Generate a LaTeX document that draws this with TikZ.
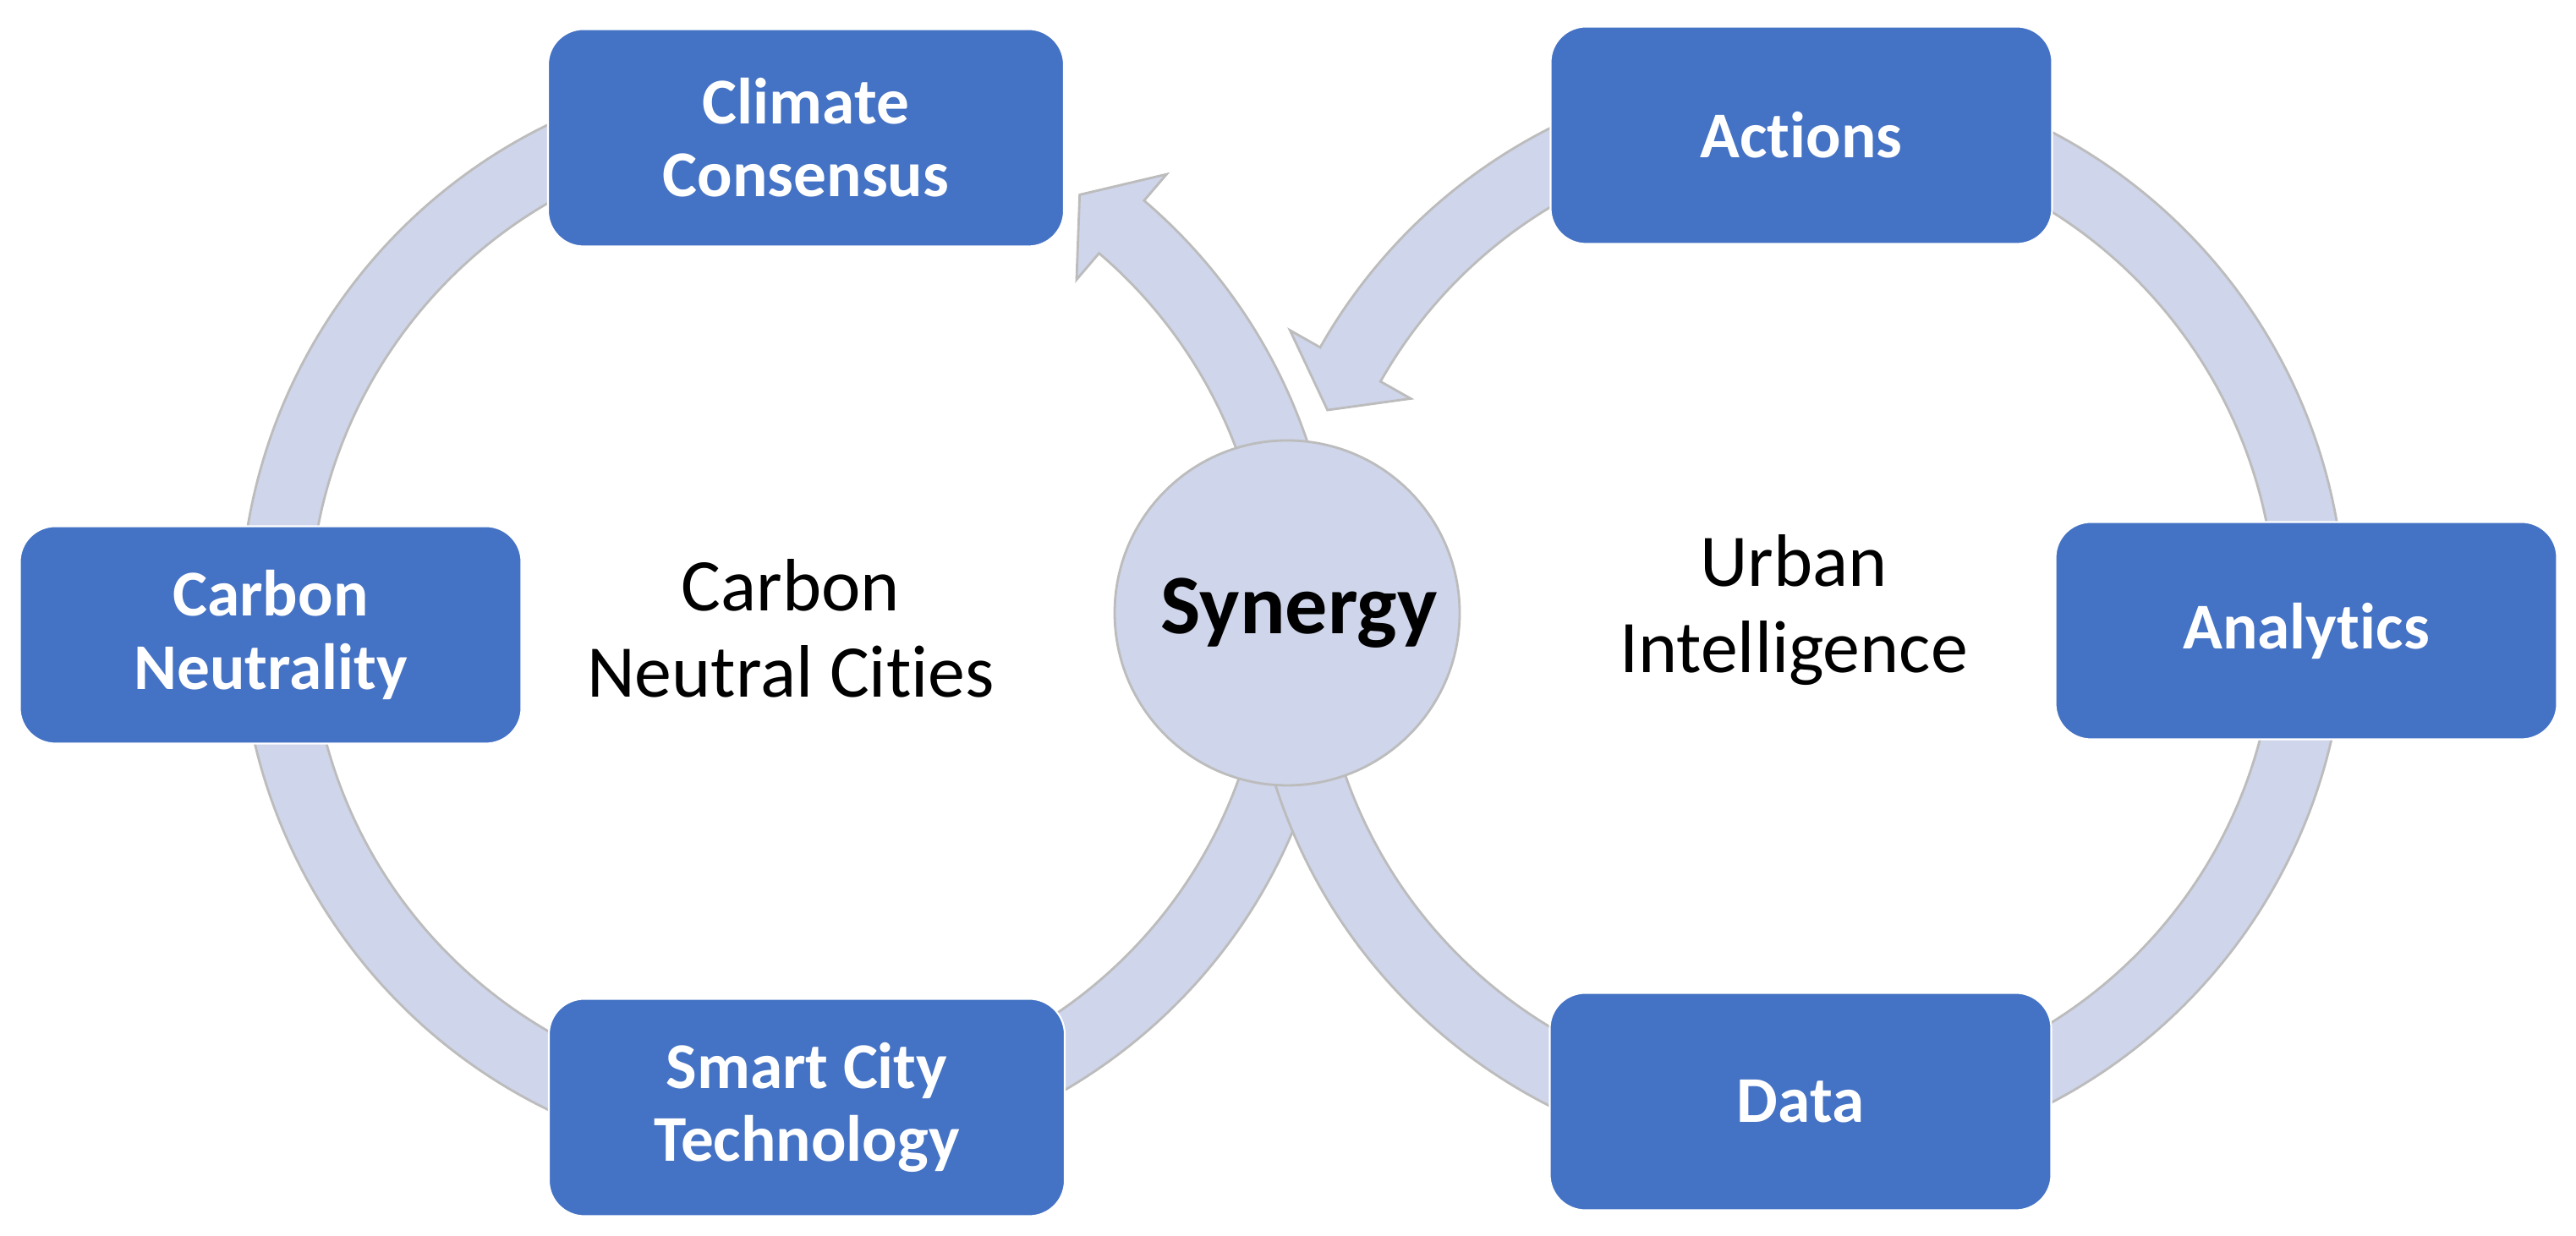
\documentclass[tikz,border=0pt]{standalone}
\usepackage{fontspec}
\setmainfont{Carlito}[Ligatures={NoCommon}]
\usetikzlibrary{positioning}
\definecolor{boxblue}{HTML}{4472C4}
\definecolor{ringfill}{HTML}{CFD5EA}
\definecolor{ringline}{HTML}{BCBCBC}

\begin{document}
\begin{tikzpicture}[
    stage/.style={rectangle, rounded corners=0.42cm, fill=boxblue, draw=white, line width=0.6pt,
      text=white, align=center, minimum height=2.57cm, minimum width=5.93cm,
      font=\fontsize{22}{24.5}\selectfont\bfseries},
    wide/.style={minimum width=6.1cm},
    band/.style={fill=ringfill, draw=ringline, line width=0.8pt},
    hub/.style={circle, fill=ringfill, draw=ringline, line width=0.8pt, minimum size=4.08cm,
      inner sep=0pt, font=\fontsize{28.5}{34}\selectfont\bfseries},
    caption/.style={align=center, font=\fontsize{25}{29}\selectfont}
  ]
  \useasboundingbox (0,0) rectangle (30.46,14.62);
  % centres of the two cycles
  \coordinate (lc) at (9.32,7.32);
  \coordinate (rc) at (21.25,7.32);

  % left cycle: ring and arrow into Climate Consensus
  \begin{scope}[shift={(lc)}]
    \draw[band] (100:5.66) arc[start angle=100, end angle=350, radius=5.66]
      -- (350:6.48) arc[start angle=350, end angle=100, radius=6.48] -- cycle;
    \draw[band] (5:5.66) arc[start angle=5, end angle=49.5, radius=5.66]
      -- (49.5:5.25) -- (55.4:6.07) -- (49.5:6.89) -- (49.5:6.48)
      arc[start angle=49.5, end angle=5, radius=6.48] -- cycle;
  \end{scope}
  % right cycle: ring and arrow into Synergy
  \begin{scope}[shift={(rc)}]
    \draw[band] (80:5.66) arc[start angle=80, end angle=-170, radius=5.66]
      -- (-170:6.48) arc[start angle=-170, end angle=80, radius=6.48] -- cycle;
    \draw[band] (100:5.66) arc[start angle=100, end angle=150.5, radius=5.66]
      -- (150.5:5.25) -- (156.2:6.07) -- (150.5:6.89) -- (150.5:6.48)
      arc[start angle=150.5, end angle=100, radius=6.48] -- cycle;
  \end{scope}

  \node[hub] (synergy) at (15.22,7.37) {\hspace*{0.28cm}Synergy};

  \node[stage, wide] (climate) at (9.53,12.99) {Climate\\Consensus};
  \node[stage] (carbon) at (3.20,7.11) {Carbon\\Neutrality};
  \node[stage, wide] (smart) at (9.54,1.52) {Smart City\\Technology};

  \node[stage] (actions) at (21.30,13.02) {Actions};
  \node[stage] (analytics) at (27.27,7.16) {Analytics};
  \node[stage] (data) at (21.29,1.59) {Data};

  \node[caption] (cities) at (9.35,7.19) {Carbon\\Neutral Cities};
  \node[caption] (urban) at (21.21,7.40) {Urban\\Intelligence};
\end{tikzpicture}
\end{document}
